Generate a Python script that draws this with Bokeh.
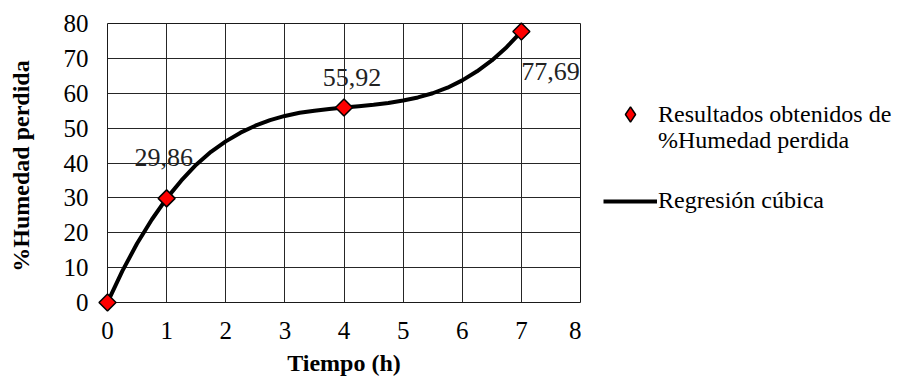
from bokeh.plotting import figure
from bokeh.layouts import row
from bokeh.models import (Range1d, FixedTicker, ColumnDataSource, LabelSet, Legend, LegendItem)
from bokeh.embed import file_html
from bokeh.resources import INLINE
import math

# Data
tiempo = [0, 1, 4, 7]
humedad = [0, 29.86, 55.92, 77.69]
etiquetas = ["", "29,86", "55,92", "77,69"]

# Cubic regression curve
curva_x = [0, 0.25, 0.5, 0.75, 1, 1.25, 1.5, 1.75, 2, 2.25, 2.5, 2.75, 3, 3.25, 3.5, 3.75,
           4, 4.25, 4.5, 4.75, 5, 5.25, 5.5, 5.75, 6, 6.25, 6.5, 6.75, 7]
curva_y = [0, 9.0, 16.9, 23.8, 29.86, 35.0, 39.5, 43.2, 46.2, 48.7, 50.7, 52.3, 53.5, 54.4, 55.0, 55.5,
           55.92, 56.3, 56.7, 57.2, 57.9, 58.8, 60.0, 61.6, 63.7, 66.3, 69.4, 73.2, 77.69]

x_ticks = [0, 1, 2, 3, 4, 5, 6, 7, 8]
y_ticks = [0, 10, 20, 30, 40, 50, 60, 70, 80]

leyenda_puntos = ["Resultados obtenidos de", "%Humedad perdida"]
leyenda_curva = "Regresión cúbica"

FONT = "Liberation Serif"

# ---------------- main chart ----------------
p = figure(width=581, height=378, output_backend="svg", toolbar_location=None,
           x_range=Range1d(0, 8), y_range=Range1d(0, 80),
           min_border_left=107, min_border_right=1, min_border_top=23, min_border_bottom=76)

p.background_fill_color = "white"
p.border_fill_color = "white"
p.outline_line_color = "#1a1a1a"
p.outline_line_width = 1

p.xaxis.ticker = FixedTicker(ticks=x_ticks)
p.yaxis.ticker = FixedTicker(ticks=y_ticks)
for ax in (p.xaxis, p.yaxis):
    ax.axis_line_color = None
    ax.major_tick_line_color = None
    ax.minor_tick_line_color = None
    ax.major_tick_out = 0
    ax.major_tick_in = 0
    ax.major_label_text_font = FONT
    ax.major_label_text_font_size = "25px"
    ax.major_label_text_color = "black"
    ax.axis_label_text_font = FONT
    ax.axis_label_text_font_style = "bold"
    ax.axis_label_text_font_size = "24px"
    ax.axis_label_text_color = "black"

p.xaxis.axis_label = "Tiempo (h)"
p.yaxis.axis_label = "%Humedad  perdida"
p.xaxis.major_label_standoff = 19
p.yaxis.major_label_standoff = 19
p.xaxis.axis_label_standoff = 8
p.yaxis.axis_label_standoff = 27

p.xgrid.ticker = FixedTicker(ticks=x_ticks)
p.ygrid.ticker = FixedTicker(ticks=y_ticks)
p.xgrid.grid_line_color = "#262626"
p.ygrid.grid_line_color = "#262626"
p.xgrid.grid_line_width = 1
p.ygrid.grid_line_width = 1

p.line(curva_x, curva_y, line_color="black", line_width=4, line_join="round")

src = ColumnDataSource(dict(x=tiempo, y=humedad, t=etiquetas,
                            dx=[0, -3, 8, 29], dy=[0, 41, 30, -40]))
p.scatter("x", "y", source=src, marker="square", angle=math.pi / 4, size=12,
          fill_color="#ff0000", line_color="black", line_width=1.5, level="overlay")

labels = LabelSet(x="x", y="y", text="t", source=src, x_offset="dx", y_offset="dy",
                  text_align="center", text_baseline="middle",
                  text_font=FONT, text_font_size="26px", text_color="#222222")
p.add_layout(labels)

# ---------------- legend panel ----------------
q = figure(width=320, height=378, output_backend="svg", toolbar_location=None,
           x_axis_type=None, y_axis_type=None,
           min_border_left=0, min_border_right=0, min_border_top=0, min_border_bottom=0)
q.outline_line_color = None
q.grid.visible = False
q.background_fill_color = "white"
q.border_fill_color = "white"

# legend swatches (hidden renderers drawing the same series)
q_pts = q.scatter(tiempo, humedad, marker="diamond", fill_color="#ff0000",
                  line_color="black", line_width=1.5, visible=False)
q_line = q.line(curva_x, curva_y, line_color="black", line_width=4, visible=False)


def make_legend(items, gh, loc):
    lg = Legend(items=items, location=loc, orientation="vertical")
    lg.label_text_font = FONT
    lg.label_text_font_size = "24px"
    lg.label_text_color = "black"
    lg.glyph_width = 54
    lg.glyph_height = gh
    lg.label_standoff = 1
    lg.padding = 0
    lg.margin = 0
    lg.spacing = 0
    lg.border_line_color = None
    lg.background_fill_alpha = 0
    lg.inactive_fill_alpha = 0
    q.add_layout(lg, "center")
    return lg


make_legend([LegendItem(label=leyenda_puntos[0], renderers=[q_pts])], 38, (22, 169))
make_legend([LegendItem(label=leyenda_puntos[1], renderers=[])], 20, (22, 148))
make_legend([LegendItem(label=leyenda_curva, renderers=[q_line])], 20, (22, 88))

layout = row(p, q, spacing=0)
open("out.html", "w").write(file_html(layout, INLINE))
